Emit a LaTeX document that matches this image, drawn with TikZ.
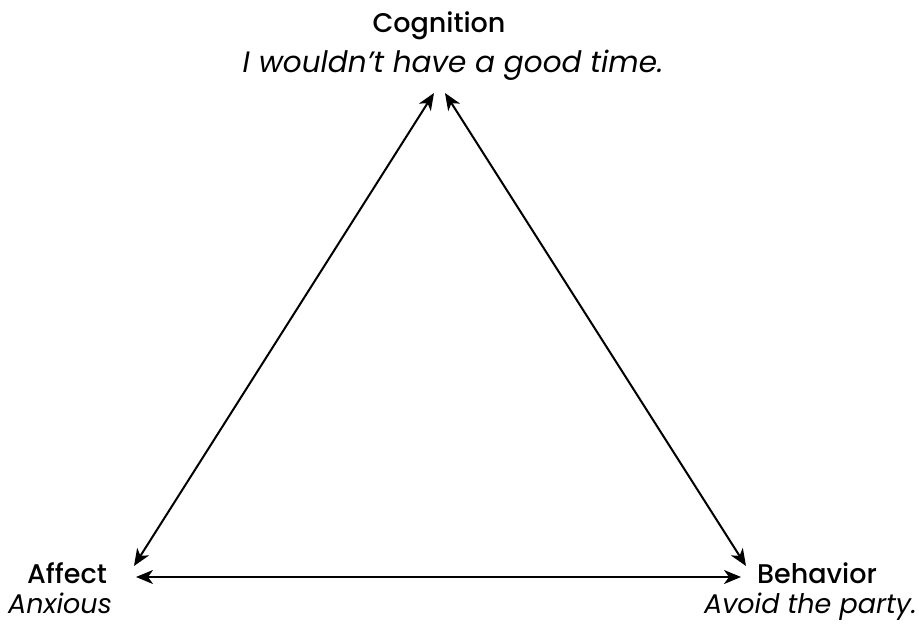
\documentclass[tikz,border=0pt]{standalone}
\usepackage{fontspec}
\setmainfont{Poppins}
\newfontfamily\headfont{Poppins Medium}
\usetikzlibrary{arrows.meta}
\begin{document}
\begin{tikzpicture}[x=1pt,y=-1pt,
  head/.style={font=\headfont\fontsize{27}{30}\selectfont, inner sep=0pt, anchor=base},
  sub/.style={font=\fontsize{27}{30}\selectfont\itshape, inner sep=0pt, anchor=base},
  link/.style={line width=2pt, {Stealth[length=17pt,width=14pt,inset=5pt]}-{Stealth[length=17pt,width=14pt,inset=5pt]}}]
\useasboundingbox (0,0) rectangle (919,624);
\node[head] (cog) at (439,32) {Cognition};
\node[sub, font=\fontsize{29.5}{32}\selectfont\itshape] (cogs) at (453,72) {I wouldn’t have a good time.};
\node[head] (aff) at (67,583) {Affect};
\node[sub] (affs) at (60,613) {Anxious};
\node[head] (beh) at (817,583) {Behavior};
\node[sub, anchor=base east] (behs) at (917,613) {Avoid the party.};
\coordinate (cl) at (434,93);
\coordinate (cr) at (445,93);
\coordinate (al) at (134,566);
\coordinate (ab) at (136,577);
\coordinate (bl) at (746,566);
\coordinate (bb) at (741,577);
\draw[link] (cl) -- (al);
\draw[link] (cr) -- (bl);
\draw[link] (ab) -- (bb);
\end{tikzpicture}
\end{document}
